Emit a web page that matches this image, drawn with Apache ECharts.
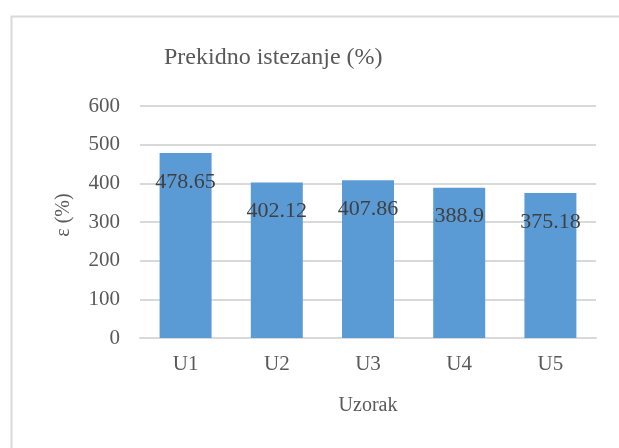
<!DOCTYPE html>
<html>
<head>
<meta charset="utf-8">
<script src="https://cdn.jsdelivr.net/npm/echarts@6/dist/echarts.min.js"></script>
<style>
  html, body { margin: 0; padding: 0; background: #fff; }
  #chart { width: 619px; height: 448px; }
</style>
</head>
<body>
<div id="chart"></div>
<script>
// data
var categories = ['U1', 'U2', 'U3', 'U4', 'U5'];
var values = [478.65, 402.12, 407.86, 388.9, 375.18];
var yTicks = [0, 100, 200, 300, 400, 500, 600];

var font = '"Liberation Serif", "Times New Roman", serif';

var chart = echarts.init(document.getElementById('chart'));
chart.setOption({
    animation: false,
    graphic: [{
        type: 'rect',
        left: 9, top: 14,
        shape: { width: 700, height: 500 },
        style: { fill: 'none', stroke: '#d9d9d9', lineWidth: 2 }
    }],
    title: {
        text: 'Prekidno istezanje (%)',
        left: 159, top: 41,
        textStyle: { fontFamily: font, fontSize: 24, fontWeight: 'normal', color: '#595959' }
    },
    grid: { left: 140, right: 23, top: 106, bottom: 110 },
    xAxis: {
        type: 'category',
        data: categories,
        name: 'Uzorak',
        nameLocation: 'middle',
        nameGap: 58,
        nameTextStyle: { fontFamily: font, fontSize: 20, color: '#595959' },
        axisLine: { lineStyle: { color: '#d9d9d9', width: 2 } },
        axisTick: { show: false },
        axisLabel: { fontFamily: font, fontSize: 21, color: '#595959', margin: 16 }
    },
    yAxis: {
        type: 'value',
        min: yTicks[0],
        max: yTicks[yTicks.length - 1],
        interval: 100,
        name: 'ε (%)',
        nameLocation: 'middle',
        nameGap: 66,
        nameTextStyle: { fontFamily: font, fontSize: 20, color: '#595959', padding: [0, 0, 0, 14] },
        axisLine: { show: false },
        axisTick: { show: false },
        axisLabel: { fontFamily: font, fontSize: 21, color: '#595959', margin: 20 },
        splitLine: { lineStyle: { color: '#d9d9d9', width: 2 } }
    },
    series: [{
        type: 'bar',
        data: values,
        barCategoryGap: '43%',
        itemStyle: { color: '#5b9bd5' },
        label: {
            show: true,
            position: 'insideTop',
            distance: 18,
            fontFamily: font,
            fontSize: 22,
            color: '#404040'
        }
    }]
});
</script>
</body>
</html>
